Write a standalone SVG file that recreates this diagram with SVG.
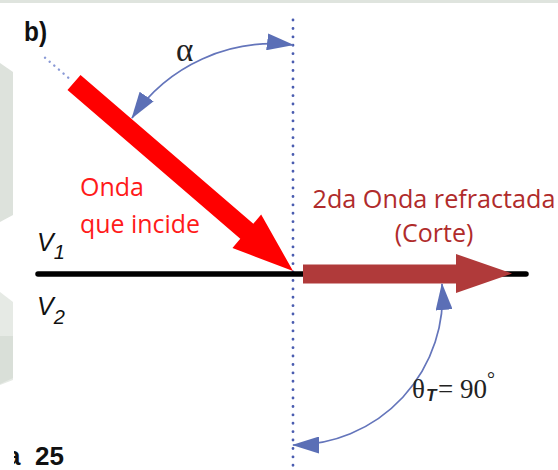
<svg xmlns="http://www.w3.org/2000/svg" width="558" height="470" viewBox="0 0 558 470">
<style>
  .sans { font-family: "Open Sans", "Noto Sans", sans-serif; }
  .red { fill: #ff1a1a; font-size: 25px; }
  .dred { fill: #b02b2b; font-size: 25px; }
  .med { font-family: "Liberation Sans", Arial, sans-serif; font-style: italic; font-size: 25px; fill: #111; }
  .serif { font-family: "Liberation Serif", "Times New Roman", serif; fill: #222; }
  .arc { fill: none; stroke: #6475bb; stroke-width: 1.7; marker-start: url(#ah); marker-end: url(#ah); }
  .dots { stroke: #4a5cb0; stroke-width: 2.8; stroke-linecap: round; stroke-dasharray: 0.1 8.3; fill: none; }
</style>
<defs>
  <marker id="ah" viewBox="0 0 27 17" refX="26" refY="8.5" markerWidth="27" markerHeight="17" markerUnits="userSpaceOnUse" orient="auto-start-reverse">
    <path d="M0,0 L27,8.5 L0,17 Z" fill="#5b6fb6"/>
  </marker>
  <clipPath id="clipL"><rect x="14" y="0" width="544" height="470"/></clipPath>
</defs>

<rect x="0" y="0" width="558" height="470" fill="#ffffff"/>
<g id="background">
  <rect x="0" y="0" width="558" height="3" fill="#dfe4de"/>
  <polygon points="0,63 13,72 13,215 0,222" fill="#dde2dc"/>
  <polygon points="0,292 13,302 13,380 0,385" fill="#e6eae5"/>
  <polygon points="0,336 13,336 13,378 0,384" fill="#d9dfd8"/>
</g>

<g id="label-b">
  <text x="24" y="41" font-family="Liberation Sans, Arial, sans-serif" font-weight="bold" font-size="28" fill="#111" textLength="23" lengthAdjust="spacingAndGlyphs">b)</text>
</g>

<g id="normal">
  <line class="dots" x1="293" y1="20" x2="293" y2="470"/>
</g>

<g id="boundary">
  <line x1="38" y1="274" x2="526" y2="274" stroke="#000" stroke-width="5.5" stroke-linecap="round"/>
</g>

<g id="incident-wave">
  <line x1="45" y1="57.7" x2="71" y2="80" stroke="#8a9ad6" stroke-width="2.4" stroke-linecap="round" stroke-dasharray="0.1 6"/>
  <polygon transform="translate(74,82.5) rotate(40.72)" points="0,-10 228,-10 228,-22 289,0 228,22 228,10 0,10" fill="#ff0000"/>
  <text class="sans red" x="80" y="196">Onda</text>
  <text class="sans red" x="80" y="233" textLength="120" lengthAdjust="spacingAndGlyphs">que incide</text>
</g>

<g id="refracted-wave">
  <polygon points="303,264.5 456,264.5 456,254 512,273.5 456,293 456,283.5 303,283.5" fill="#b03a3a"/>
  <text class="sans dred" x="434" y="208" text-anchor="middle" textLength="243" lengthAdjust="spacingAndGlyphs">2da Onda refractada</text>
  <text class="sans dred" x="434" y="242" text-anchor="middle">(Corte)</text>
</g>

<g id="connectors">
  <path id="arc-alpha" class="arc" d="M293,45 A170,170 0 0 0 132,118"/>
  <path id="arc-theta" class="arc" d="M442,284 A149,149 0 0 1 293,445"/>
</g>

<g id="angle-alpha">
  <text class="serif" x="176" y="61" font-size="33">α</text>
</g>

<g id="angle-theta">
  <text class="serif" y="398" font-size="27"><tspan x="412">θ</tspan><tspan x="426" dy="3" font-family="Liberation Sans, Arial, sans-serif" font-weight="bold" font-style="italic" font-size="17">T</tspan><tspan x="438" dy="-3">= 90</tspan><tspan x="487" dy="-12" font-size="20">°</tspan></text>
</g>

<g id="media-labels">
  <text class="med" x="37" y="251">V<tspan font-size="20" dy="8">1</tspan></text>
  <text class="med" x="37" y="315">V<tspan font-size="20" dy="9">2</tspan></text>
</g>

<g id="caption" clip-path="url(#clipL)">
  <text font-family="Liberation Sans, Arial, sans-serif" font-weight="bold" font-size="26" fill="#111" y="465"><tspan x="6">a</tspan><tspan x="35">25</tspan></text>
</g>
</svg>
